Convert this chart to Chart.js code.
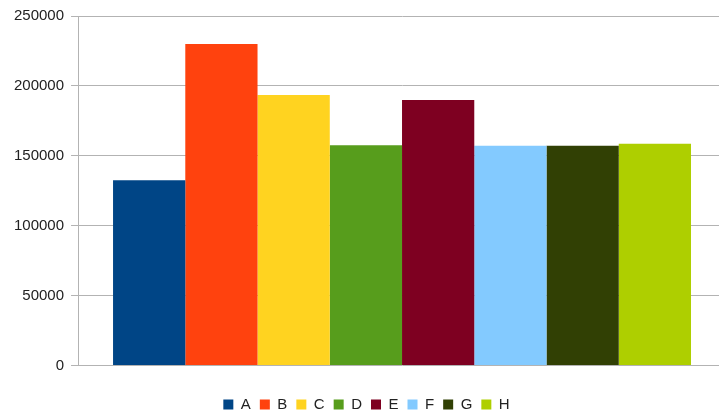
<!DOCTYPE html>
<html>
<head>
<meta charset="utf-8">
<script src="https://cdn.jsdelivr.net/npm/chart.js@4"></script>
<style>
  html, body { margin: 0; padding: 0; background: #fff; }
  #wrap { width: 719px; height: 415px; overflow: hidden; }
</style>
</head>
<body>
<div id="wrap"><canvas id="chart" width="726" height="415"></canvas></div>
<script>
// データ
const categories = [""];
const seriesNames = ["A", "B", "C", "D", "E", "F", "G", "H"];
const seriesValues = [132500, 230000, 193500, 157600, 190000, 157200, 157200, 158600];
const seriesColors = ["#004586", "#ff420e", "#ffd320", "#579d1c", "#7e0021", "#83caff", "#314004", "#aecf00"];
const yTicks = [0, 50000, 100000, 150000, 200000, 250000];

Chart.defaults.font.family = "'Liberation Sans', Arial, sans-serif";
Chart.defaults.color = "#222";

const datasets = seriesNames.map((name, i) => ({
  label: name,
  data: [seriesValues[i]],
  backgroundColor: seriesColors[i],
  borderWidth: 0,
}));

new Chart(document.querySelector("#chart"), {
  type: "bar",
  data: { labels: categories, datasets },
  options: {
    responsive: false,
    animation: false,
    layout: { padding: { left: 7, top: 7, right: 0, bottom: -7 } },
    datasets: { bar: { categoryPercentage: 0.892, barPercentage: 1.0 } },
    plugins: {
      legend: {
        position: "bottom",
        // 空のタイトルで凡例を少し下げる
        title: { display: true, text: "", padding: 0, font: { size: 12 } },
        labels: { boxWidth: 10, boxHeight: 10, padding: 9, font: { size: 15 }, color: "#222" },
      },
      tooltip: { enabled: false },
    },
    scales: {
      x: {
        ticks: { display: false },
        grid: { display: false },
        border: { display: false },
      },
      y: {
        min: 0,
        max: 250000,
        afterBuildTicks: (axis) => { axis.ticks = yTicks.map((v) => ({ value: v })); },
        ticks: { padding: 7, font: { size: 15 }, color: "#222", callback: (v) => String(v) },
        grid: { color: "#b3b3b3", tickLength: 7, lineWidth: 1 },
        border: { color: "#b3b3b3" },
      },
    },
  },
});
</script>
</body>
</html>
